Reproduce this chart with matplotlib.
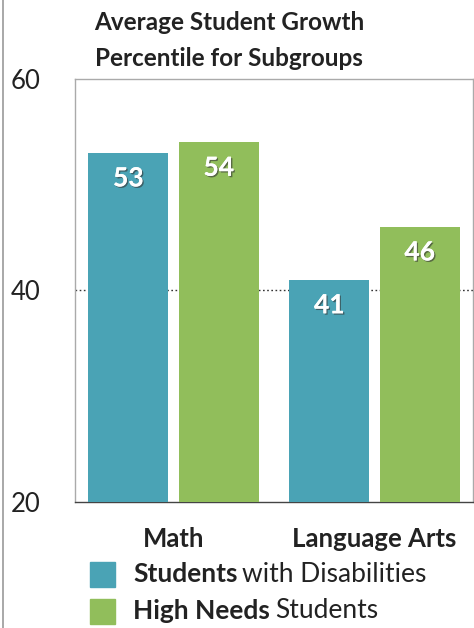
#Average Student Growth Percentile for Subgroups - grouped bar chart
import numpy as np
import matplotlib.pyplot as plt
import matplotlib.patheffects as pe
from matplotlib.patches import Rectangle
from matplotlib.lines import Line2D

#Data
subjects = ['Math', 'Language Arts']
disabilities = [53, 41]  #Students with Disabilities
high_needs = [54, 46]    #High Needs Students
yticks = [20, 40, 60]

teal = '#4aa3b5'
green = '#91be5b'
plt.rcParams['font.family'] = ['Lato', 'DejaVu Sans']

fig = plt.figure(figsize=(4.74, 6.28), dpi=100)
ax = fig.add_axes([75/474, 1-502/628, (473-75)/474, (502-79)/628])

x = np.arange(len(subjects))
off = 0.225
w = 0.4
ax.bar(x-off, disabilities, w, color=teal, zorder=3)
ax.bar(x+off, high_needs, w, color=green, zorder=3)

#Value labels
shadow = [pe.withSimplePatchShadow(offset=(1, -1), shadow_rgbFace='#333333', alpha=0.6), pe.Normal()]
for xs, vals in [(x-off, disabilities), (x+off, high_needs)]:
    for xi, v in zip(xs, vals):
        ax.text(xi, v-2.4, str(v), ha='center', va='center', color='white', fontsize=19,
                fontweight='bold', zorder=4, path_effects=shadow)

#Dotted gridline at 40
ax.axhline(40, color='#333333', linestyle=(0, (1.2, 1.8)), linewidth=1.0, zorder=1)

ax.set_ylim(20, 60)
ax.set_xlim(-0.49, 1.49)
ax.set_yticks(yticks)
ax.set_yticklabels([str(t) for t in yticks], fontsize=18.5, color='#222222')
ax.tick_params(axis='y', length=0, pad=25)
ax.set_xticks(x)
ax.set_xticklabels(subjects, fontsize=18.5, fontweight='bold', color='#222222')
ax.tick_params(axis='x', length=0, pad=18)

for s in ['left', 'top', 'right']:
    ax.spines[s].set_color('#aaaaaa')
    ax.spines[s].set_linewidth(1.0)
ax.spines['bottom'].set_color('#444444')
ax.spines['bottom'].set_linewidth(1.0)

#Title
fig.text(229/474, 1-22/628, 'Average Student Growth', ha='center', va='center',
         fontsize=17.5, fontweight='bold', color='#222222')
fig.text(229/474, 1-58/628, 'Percentile for Subgroups', ha='center', va='center',
         fontsize=17.5, fontweight='bold', color='#222222')

#Legend (mixed weights)
fig.patches.append(Rectangle((90/474, 1-587/628), 25/474, 25/628, color=teal, transform=fig.transFigure))
fig.patches.append(Rectangle((90/474, 1-624/628), 25/474, 25/628, color=green, transform=fig.transFigure))
t1 = fig.text(133/474, 1-574/628, 'Students', ha='left', va='center', fontsize=19,
              fontweight='bold', color='#222222')
t2 = fig.text(133/474, 1-611/628, 'High Needs', ha='left', va='center', fontsize=19,
              fontweight='bold', color='#222222')
fig.canvas.draw()
r = fig.canvas.get_renderer()
b1 = t1.get_window_extent(r)
b2 = t2.get_window_extent(r)
fig.text((b1.x1+5)/474, 1-574/628, 'with Disabilities', ha='left', va='center', fontsize=19, color='#222222')
fig.text((b2.x1+5)/474, 1-611/628, 'Students', ha='left', va='center', fontsize=19, color='#222222')

#Left page border
fig.add_artist(Line2D([3/474, 3/474], [0, 1], color='#999999', linewidth=1.2))

fig.savefig('out.png', dpi=100)
